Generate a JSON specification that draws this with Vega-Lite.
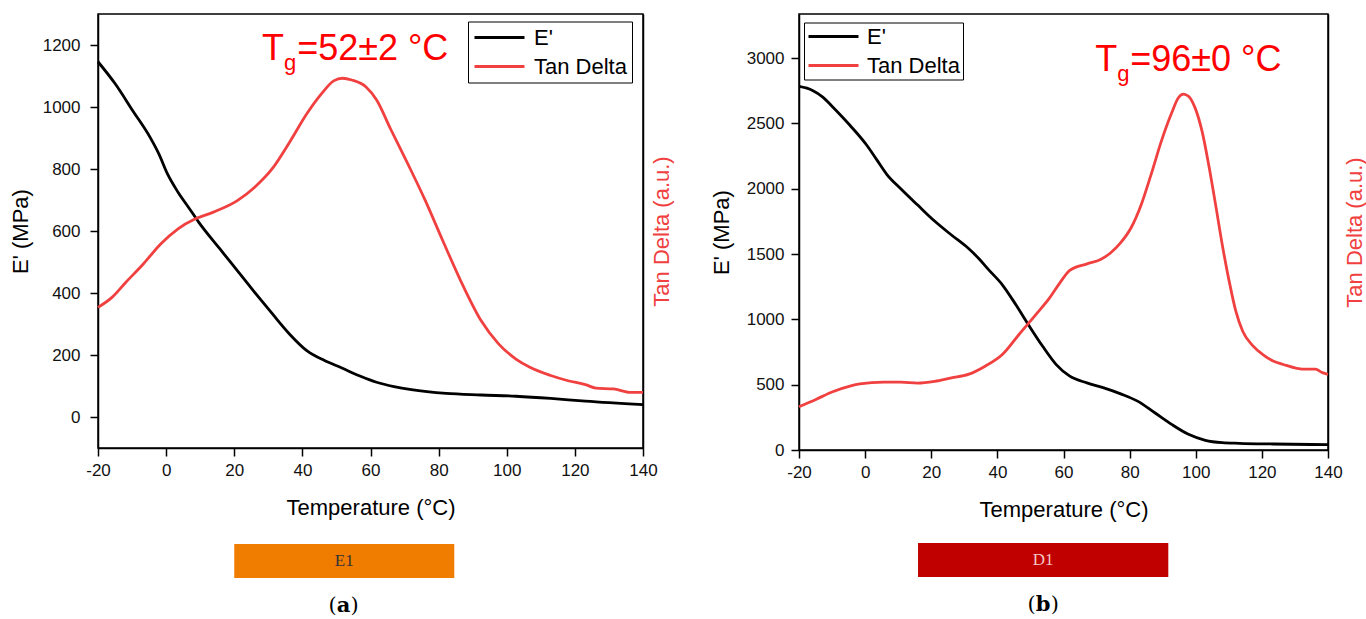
{
  "$schema": "https://vega.github.io/schema/vega-lite/v6.json",
  "background": "white",
  "padding": {"left": 8, "top": 13, "right": 0, "bottom": 0},
  "datasets": {
    "aE": [
      {"T": -20, "value": 1146}, {"T": -14.9, "value": 1074}, {"T": -9.8, "value": 988}, {"T": -4.7, "value": 902},
      {"T": -2.1, "value": 848}, {"T": 0.4, "value": 784}, {"T": 3.5, "value": 725}, {"T": 6.6, "value": 676},
      {"T": 9.6, "value": 628}, {"T": 15.8, "value": 542}, {"T": 20.9, "value": 472}, {"T": 26, "value": 402},
      {"T": 31.1, "value": 334}, {"T": 36.2, "value": 268}, {"T": 41.3, "value": 214}, {"T": 46.5, "value": 182},
      {"T": 51.6, "value": 158}, {"T": 56.7, "value": 133}, {"T": 61.8, "value": 112}, {"T": 66.9, "value": 98},
      {"T": 72, "value": 88}, {"T": 82.2, "value": 76}, {"T": 92.5, "value": 71}, {"T": 102.7, "value": 67},
      {"T": 112.9, "value": 60}, {"T": 123.1, "value": 51}, {"T": 140, "value": 40}
    ],
    "aT": [
      {"T": -20, "value": 0.324}, {"T": -15.9, "value": 0.347}, {"T": -11.8, "value": 0.382}, {"T": -6.7, "value": 0.424},
      {"T": -1.6, "value": 0.47}, {"T": 3.5, "value": 0.505}, {"T": 8.6, "value": 0.528}, {"T": 13.7, "value": 0.543},
      {"T": 20.9, "value": 0.57}, {"T": 26, "value": 0.601}, {"T": 31.1, "value": 0.643}, {"T": 36.2, "value": 0.704},
      {"T": 41.3, "value": 0.77}, {"T": 45.4, "value": 0.814}, {"T": 49.2, "value": 0.846}, {"T": 51.8, "value": 0.852},
      {"T": 54.5, "value": 0.848}, {"T": 58.7, "value": 0.832}, {"T": 61.8, "value": 0.802}, {"T": 65.9, "value": 0.735},
      {"T": 71, "value": 0.654},
      {"T": 76.1, "value": 0.57}, {"T": 81.2, "value": 0.478}, {"T": 87.4, "value": 0.37}, {"T": 92.5, "value": 0.293},
      {"T": 97.6, "value": 0.24}, {"T": 102.7, "value": 0.205}, {"T": 106.8, "value": 0.186}, {"T": 112.9, "value": 0.167},
      {"T": 118, "value": 0.155}, {"T": 123.1, "value": 0.146}, {"T": 126.2, "value": 0.138}, {"T": 131.3, "value": 0.136},
      {"T": 136.4, "value": 0.128}, {"T": 140, "value": 0.128}
    ],
    "bE": [
      {"T": -20, "value": 2783}, {"T": -15.9, "value": 2753}, {"T": -12.8, "value": 2702}, {"T": -9.8, "value": 2626},
      {"T": -4.6, "value": 2486}, {"T": 0.5, "value": 2333}, {"T": 3.6, "value": 2219}, {"T": 6.6, "value": 2109},
      {"T": 10.7, "value": 2002}, {"T": 15.9, "value": 1875}, {"T": 21, "value": 1753}, {"T": 26.1, "value": 1646},
      {"T": 31.2, "value": 1544}, {"T": 34.3, "value": 1468}, {"T": 37.4, "value": 1379}, {"T": 41.5, "value": 1265},
      {"T": 45.6, "value": 1112}, {"T": 49.7, "value": 947}, {"T": 53.7, "value": 794}, {"T": 57.8, "value": 654},
      {"T": 61.9, "value": 565}, {"T": 67.1, "value": 514}, {"T": 72.2, "value": 476}, {"T": 77.3, "value": 430},
      {"T": 82.4, "value": 374}, {"T": 87.6, "value": 285}, {"T": 92.7, "value": 196}, {"T": 97.8, "value": 120},
      {"T": 102.9, "value": 74}, {"T": 108, "value": 56}, {"T": 113.2, "value": 51}, {"T": 123.4, "value": 46},
      {"T": 140, "value": 41}
    ],
    "bT": [
      {"T": -20, "value": 0.1}, {"T": -14.9, "value": 0.117}, {"T": -9.8, "value": 0.135}, {"T": -4.6, "value": 0.148},
      {"T": -1.6, "value": 0.153}, {"T": 5.6, "value": 0.157}, {"T": 10.7, "value": 0.157}, {"T": 15.9, "value": 0.155},
      {"T": 21, "value": 0.159}, {"T": 26.1, "value": 0.167}, {"T": 31.2, "value": 0.175}, {"T": 36.3, "value": 0.194},
      {"T": 41.5, "value": 0.221}, {"T": 46.6, "value": 0.268}, {"T": 51.7, "value": 0.314}, {"T": 55.8, "value": 0.352},
      {"T": 58.9, "value": 0.387}, {"T": 61.9, "value": 0.416}, {"T": 67.1, "value": 0.431}, {"T": 71.2, "value": 0.441},
      {"T": 74.2, "value": 0.456}, {"T": 77.3, "value": 0.48}, {"T": 80.4, "value": 0.514}, {"T": 83.5, "value": 0.568},
      {"T": 86.5, "value": 0.638}, {"T": 89.6, "value": 0.715}, {"T": 92.7, "value": 0.78}, {"T": 94.7, "value": 0.815},
      {"T": 96.3, "value": 0.824}, {"T": 97.8, "value": 0.819}, {"T": 99.8, "value": 0.792}, {"T": 101.9, "value": 0.738},
      {"T": 103.9, "value": 0.661}, {"T": 106, "value": 0.568}, {"T": 108, "value": 0.476}, {"T": 110.1, "value": 0.391},
      {"T": 112.1, "value": 0.322}, {"T": 114.2, "value": 0.275}, {"T": 117.3, "value": 0.241}, {"T": 120.3, "value": 0.221},
      {"T": 123.4, "value": 0.206}, {"T": 126.5, "value": 0.198}, {"T": 130.6, "value": 0.189}, {"T": 133.6, "value": 0.187},
      {"T": 136.2, "value": 0.187}, {"T": 138.3, "value": 0.179}, {"T": 140, "value": 0.175}
    ]
  },
  "columns": 2,
  "bounds": "flush",
  "spacing": {"row": 80, "column": 156},
  "resolve": {"scale": {"color": "independent"}, "legend": {"color": "independent"}},
  "concat": [
    {
      "width": 545,
      "height": 434,
      "resolve": {"scale": {"y": "independent"}},
      "layer": [
        {
          "layer": [
            {
              "data": {"name": "aE"},
              "mark": {"type": "line", "strokeWidth": 2.8, "interpolate": "monotone"},
              "encoding": {
                "x": {"field": "T", "type": "quantitative", "title": "Temperature (°C)",
                  "scale": {"domain": [-20, 140], "nice": false, "zero": false},
                  "axis": {"values": [-20, -10, 0, 10, 20, 30, 40, 50, 60, 70, 80, 90, 100, 110, 120, 130, 140],
                    "labelExpr": "datum.value % 20 === 0 ? '' + datum.value : ''",
                    "tickSize": {"condition": {"test": "datum.value % 20 === 0", "value": 8}, "value": 4},
                    "labelPadding": 6.5, "titlePadding": 18.5, "labelFlush": false, "labelOverlap": false}},
                "y": {"field": "value", "type": "quantitative", "title": "E' (MPa)",
                  "scale": {"domain": [-100, 1300], "nice": false, "zero": false},
                  "axis": {"values": [0, 100, 200, 300, 400, 500, 600, 700, 800, 900, 1000, 1100, 1200],
                    "labelExpr": "datum.value % 200 === 0 ? '' + datum.value : ''",
                    "tickSize": {"condition": {"test": "datum.value % 200 === 0", "value": 8}, "value": 4},
                    "labelPadding": 10, "titlePadding": 10, "labelFlush": false, "labelOverlap": false}},
                "color": {"datum": "E'", "type": "nominal",
                  "scale": {"domain": ["E'", "Tan Delta"], "range": ["#000000", "#f04040"]},
                  "legend": {"orient": "none", "legendX": 370, "legendY": 7.5, "title": null, "symbolType": "stroke",
                    "symbolSize": 2500, "symbolStrokeWidth": 3, "clipHeight": 22, "rowPadding": 7, "labelOffset": 8,
                    "labelFontSize": 22, "labelFont": "Liberation Sans", "labelColor": "#000000", "padding": 5,
                    "strokeColor": "#000000", "fillColor": "#ffffff"}}
              }
            },
            {
              "data": {"values": [{"label": "T"}]},
              "mark": {"type": "text", "font": "Liberation Sans", "fontSize": 36, "color": "#ff0000", "align": "left", "baseline": "alphabetic"},
              "encoding": {"x": {"datum": 28.17, "type": "quantitative"}, "y": {"datum": 1152, "type": "quantitative"}, "text": {"field": "label"}}
            },
            {
              "data": {"values": [{"label": "g"}]},
              "mark": {"type": "text", "font": "Liberation Sans", "fontSize": 22, "color": "#ff0000", "align": "left", "baseline": "alphabetic"},
              "encoding": {"x": {"datum": 34.64, "type": "quantitative"}, "y": {"datum": 1120, "type": "quantitative"}, "text": {"field": "label"}}
            },
            {
              "data": {"values": [{"label": "=52±2 °C"}]},
              "mark": {"type": "text", "font": "Liberation Sans", "fontSize": 36, "color": "#ff0000", "align": "left", "baseline": "alphabetic"},
              "encoding": {"x": {"datum": 38.46, "type": "quantitative"}, "y": {"datum": 1152, "type": "quantitative"}, "text": {"field": "label"}}
            }
          ]
        },
        {
          "data": {"name": "aT"},
          "mark": {"type": "line", "strokeWidth": 2.8, "interpolate": "monotone"},
          "encoding": {
            "x": {"field": "T", "type": "quantitative", "title": "Temperature (°C)"},
            "y": {"field": "value", "type": "quantitative", "title": "Tan Delta (a.u.)",
              "scale": {"domain": [0, 1], "nice": false, "zero": false},
              "axis": {"orient": "right", "ticks": false, "labels": false, "titleColor": "#f04040", "titleAngle": 270,
                "titleBaseline": "top", "titlePadding": 8}},
            "color": {"datum": "Tan Delta", "type": "nominal"}
          }
        }
      ]
    },
    {
      "width": 529,
      "height": 436,
      "resolve": {"scale": {"y": "independent"}},
      "layer": [
        {
          "layer": [
            {
              "data": {"name": "bE"},
              "mark": {"type": "line", "strokeWidth": 2.8, "interpolate": "monotone"},
              "encoding": {
                "x": {"field": "T", "type": "quantitative", "title": "Temperature (°C)",
                  "scale": {"domain": [-20, 140], "nice": false, "zero": false},
                  "axis": {"values": [-20, -10, 0, 10, 20, 30, 40, 50, 60, 70, 80, 90, 100, 110, 120, 130, 140],
                    "labelExpr": "datum.value % 20 === 0 ? '' + datum.value : ''",
                    "tickSize": {"condition": {"test": "datum.value % 20 === 0", "value": 8}, "value": 4},
                    "labelPadding": 6.5, "titlePadding": 18.5, "labelFlush": false, "labelOverlap": false}},
                "y": {"field": "value", "type": "quantitative", "title": "E' (MPa)",
                  "scale": {"domain": [0, 3338], "nice": false, "zero": false},
                  "axis": {"values": [0, 250, 500, 750, 1000, 1250, 1500, 1750, 2000, 2250, 2500, 2750, 3000, 3250],
                    "labelExpr": "datum.value % 500 === 0 ? '' + datum.value : ''",
                    "tickSize": {"condition": {"test": "datum.value % 500 === 0", "value": 8}, "value": 4},
                    "labelPadding": 7, "titlePadding": 13, "labelFlush": false, "labelOverlap": false}},
                "color": {"datum": "E'", "type": "nominal",
                  "scale": {"domain": ["E'", "Tan Delta"], "range": ["#000000", "#f04040"]},
                  "legend": {"orient": "none", "legendX": 5, "legendY": 8.5, "title": null, "symbolType": "stroke",
                    "symbolSize": 2500, "symbolStrokeWidth": 3, "clipHeight": 22, "rowPadding": 7, "labelOffset": 7,
                    "labelFontSize": 22, "labelFont": "Liberation Sans", "labelColor": "#000000", "padding": 3,
                    "strokeColor": "#000000", "fillColor": "#ffffff"}}
              }
            },
            {
              "data": {"values": [{"label": "T"}]},
              "mark": {"type": "text", "font": "Liberation Sans", "fontSize": 36, "color": "#ff0000", "align": "left", "baseline": "alphabetic"},
              "encoding": {"x": {"datum": 69.59, "type": "quantitative"}, "y": {"datum": 2898, "type": "quantitative"}, "text": {"field": "label"}}
            },
            {
              "data": {"values": [{"label": "g"}]},
              "mark": {"type": "text", "font": "Liberation Sans", "fontSize": 22, "color": "#ff0000", "align": "left", "baseline": "alphabetic"},
              "encoding": {"x": {"datum": 76.25, "type": "quantitative"}, "y": {"datum": 2827, "type": "quantitative"}, "text": {"field": "label"}}
            },
            {
              "data": {"values": [{"label": "=96±0 °C"}]},
              "mark": {"type": "text", "font": "Liberation Sans", "fontSize": 36, "color": "#ff0000", "align": "left", "baseline": "alphabetic"},
              "encoding": {"x": {"datum": 80.18, "type": "quantitative"}, "y": {"datum": 2898, "type": "quantitative"}, "text": {"field": "label"}}
            }
          ]
        },
        {
          "data": {"name": "bT"},
          "mark": {"type": "line", "strokeWidth": 2.8, "interpolate": "monotone"},
          "encoding": {
            "x": {"field": "T", "type": "quantitative", "title": "Temperature (°C)"},
            "y": {"field": "value", "type": "quantitative", "title": "Tan Delta (a.u.)",
              "scale": {"domain": [0, 1.0093], "nice": false, "zero": false},
              "axis": {"orient": "right", "ticks": false, "labels": false, "titleColor": "#f04040", "titleAngle": 270,
                "titleBaseline": "top", "titlePadding": 16}},
            "color": {"datum": "Tan Delta", "type": "nominal"}
          }
        }
      ]
    },
    {
      "width": 545,
      "height": 85,
      "view": {"stroke": null},
      "layer": [
        {
          "data": {"values": [{"sample": "E1"}]},
          "mark": {"type": "rect", "color": "#f07c00"},
          "encoding": {
            "x": {"datum": 20, "type": "quantitative", "scale": {"domain": [-20, 140], "nice": false, "zero": false}, "axis": null},
            "x2": {"datum": 84.6},
            "y": {"datum": 14, "type": "quantitative", "scale": {"domain": [0, 85], "nice": false, "zero": false, "reverse": true}, "axis": null},
            "y2": {"datum": 48}
          }
        },
        {
          "data": {"values": [{"sample": "E1"}]},
          "mark": {"type": "text", "font": "Liberation Serif", "fontSize": 17, "color": "#333333", "baseline": "middle", "align": "center"},
          "encoding": {"x": {"datum": 52.3, "type": "quantitative"}, "y": {"datum": 31, "type": "quantitative"}, "text": {"field": "sample"}}
        },
        {
          "data": {"values": [{"part": "("}]},
          "mark": {"type": "text", "font": "DejaVu Serif", "fontSize": 21, "color": "#000000", "baseline": "alphabetic", "align": "right", "dx": -7},
          "encoding": {"x": {"datum": 52.1, "type": "quantitative"}, "y": {"datum": 82, "type": "quantitative"}, "text": {"field": "part"}}
        },
        {
          "data": {"values": [{"part": "a"}]},
          "mark": {"type": "text", "font": "DejaVu Serif", "fontSize": 21, "fontWeight": "bold", "color": "#000000", "baseline": "alphabetic", "align": "center"},
          "encoding": {"x": {"datum": 52.1, "type": "quantitative"}, "y": {"datum": 82, "type": "quantitative"}, "text": {"field": "part"}}
        },
        {
          "data": {"values": [{"part": ")"}]},
          "mark": {"type": "text", "font": "DejaVu Serif", "fontSize": 21, "color": "#000000", "baseline": "alphabetic", "align": "left", "dx": 7},
          "encoding": {"x": {"datum": 52.1, "type": "quantitative"}, "y": {"datum": 82, "type": "quantitative"}, "text": {"field": "part"}}
        }
      ]
    },
    {
      "width": 529,
      "height": 85,
      "view": {"stroke": null},
      "layer": [
        {
          "data": {"values": [{"sample": "D1"}]},
          "mark": {"type": "rect", "color": "#c00000"},
          "encoding": {
            "x": {"datum": 16, "type": "quantitative", "scale": {"domain": [-20, 140], "nice": false, "zero": false}, "axis": null},
            "x2": {"datum": 91.7},
            "y": {"datum": 13, "type": "quantitative", "scale": {"domain": [0, 85], "nice": false, "zero": false, "reverse": true}, "axis": null},
            "y2": {"datum": 47}
          }
        },
        {
          "data": {"values": [{"sample": "D1"}]},
          "mark": {"type": "text", "font": "Liberation Serif", "fontSize": 17, "color": "#f6c6c6", "baseline": "middle", "align": "center"},
          "encoding": {"x": {"datum": 53.85, "type": "quantitative"}, "y": {"datum": 30, "type": "quantitative"}, "text": {"field": "sample"}}
        },
        {
          "data": {"values": [{"part": "("}]},
          "mark": {"type": "text", "font": "DejaVu Serif", "fontSize": 21, "color": "#000000", "baseline": "alphabetic", "align": "right", "dx": -7.5},
          "encoding": {"x": {"datum": 53.85, "type": "quantitative"}, "y": {"datum": 81, "type": "quantitative"}, "text": {"field": "part"}}
        },
        {
          "data": {"values": [{"part": "b"}]},
          "mark": {"type": "text", "font": "DejaVu Serif", "fontSize": 21, "fontWeight": "bold", "color": "#000000", "baseline": "alphabetic", "align": "center"},
          "encoding": {"x": {"datum": 53.85, "type": "quantitative"}, "y": {"datum": 81, "type": "quantitative"}, "text": {"field": "part"}}
        },
        {
          "data": {"values": [{"part": ")"}]},
          "mark": {"type": "text", "font": "DejaVu Serif", "fontSize": 21, "color": "#000000", "baseline": "alphabetic", "align": "left", "dx": 7.5},
          "encoding": {"x": {"datum": 53.85, "type": "quantitative"}, "y": {"datum": 81, "type": "quantitative"}, "text": {"field": "part"}}
        }
      ]
    }
  ],
  "config": {
    "font": "Liberation Sans",
    "view": {"stroke": "#000000", "strokeWidth": 1.5},
    "axis": {
      "grid": false,
      "domainColor": "#000000", "domainWidth": 1.5,
      "tickColor": "#000000", "tickWidth": 1.5,
      "labelFont": "Liberation Sans", "labelFontSize": 17, "labelColor": "#111111",
      "titleFont": "Liberation Sans", "titleFontSize": 22, "titleFontWeight": "normal", "titleColor": "#000000"
    }
  }
}
